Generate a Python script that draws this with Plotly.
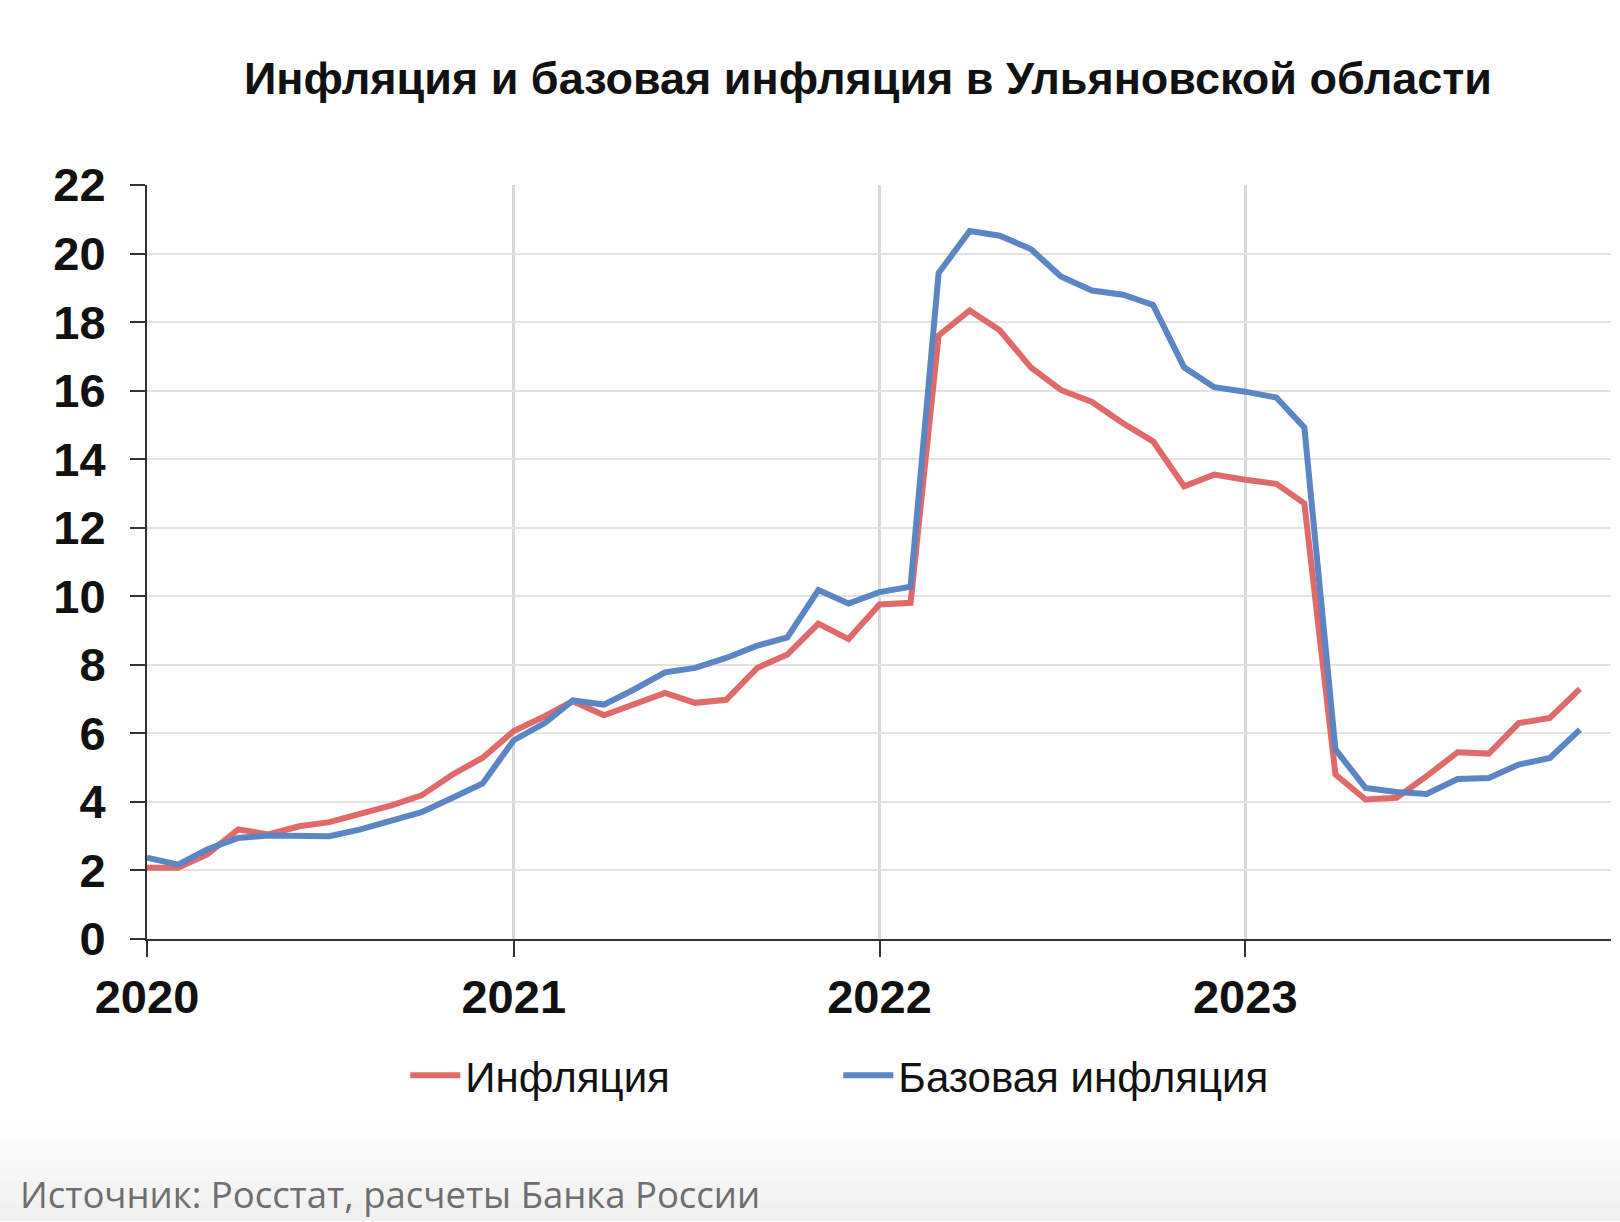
import plotly.graph_objects as go
import pandas as pd

months = pd.date_range("2020-01-01", periods=48, freq="MS").strftime("%Y-%m-%d").tolist()

inflation = [2.08, 2.08, 2.47, 3.20, 3.05, 3.29, 3.41, 3.66, 3.90, 4.19, 4.80, 5.29,
             6.07, 6.50, 6.94, 6.53, 6.83, 7.18, 6.89, 6.98, 7.91, 8.30, 9.20, 8.75,
             9.76, 9.81, 17.61, 18.34, 17.76, 16.68, 16.02, 15.67, 15.05, 14.52, 13.21, 13.55,
             13.40, 13.28, 12.71, 4.80, 4.07, 4.12, 4.75, 5.45, 5.41, 6.30, 6.45, 7.30]

core_inflation = [2.37, 2.17, 2.61, 2.95, 3.02, 3.02, 3.00, 3.20, 3.44, 3.70, 4.12, 4.54,
                  5.80, 6.30, 6.96, 6.84, 7.28, 7.78, 7.91, 8.20, 8.56, 8.80, 10.18, 9.79,
                  10.12, 10.28, 19.43, 20.66, 20.52, 20.13, 19.33, 18.92, 18.80, 18.50, 16.68, 16.10,
                  15.97, 15.80, 14.92, 5.53, 4.41, 4.29, 4.23, 4.67, 4.70, 5.09, 5.28, 6.11]

year_ticks = ["2020-01-01", "2021-01-01", "2022-01-01", "2023-01-01"]
year_labels = ["2020", "2021", "2022", "2023"]
y_ticks = [0, 2, 4, 6, 8, 10, 12, 14, 16, 18, 20, 22]

title_text = "Инфляция и базовая инфляция в Ульяновской области"
source_text = "Источник: Росстат, расчеты Банка России"

RED = "#E06A6A"
BLUE = "#5B85C3"

fig = go.Figure()
fig.add_trace(go.Scatter(x=months, y=inflation, mode="lines", name="Инфляция",
                         line=dict(color=RED, width=6)))
fig.add_trace(go.Scatter(x=months, y=core_inflation, mode="lines", name="Базовая инфляция",
                         line=dict(color=BLUE, width=6)))

W, H = 1620, 1222
L, R, T, B = 146.5, 8.5, 185, 282.5
plot_h = H - T - B

def py(Y):
    return (H - B - Y) / plot_h

# subtle grey gradient at the bottom of the picture
shapes = []
greys = ["#fdfdfd", "#fafafa", "#f7f7f7", "#f4f4f4", "#f1f1f1"]
y0 = 1120
step = (H - y0) / len(greys)
for i, g in enumerate(greys):
    shapes.append(dict(type="rect", xref="paper", yref="paper",
                       x0=-0.2, x1=1.1, y0=py(y0 + (i + 1) * step), y1=py(y0 + i * step),
                       fillcolor=g, line=dict(width=0), layer="below"))

fig.update_layout(
    width=W, height=H,
    margin=dict(l=L, r=R, t=T, b=B),
    paper_bgcolor="white", plot_bgcolor="white",
    shapes=shapes,
    title=dict(text=title_text, x=(245 + 1491) / 2 / W, xanchor="center",
               y=1 - 78 / H, yanchor="middle",
               font=dict(family="Liberation Sans", size=45, color="#111111", weight="bold")),
    showlegend=True,
    legend=dict(orientation="h", x=(405 - L) / (W - L - R), xanchor="left",
                y=py(1076), yanchor="middle",
                font=dict(family="Liberation Sans", size=42, color="#111111"),
                entrywidth=368, entrywidthmode="pixels",
                bgcolor="rgba(0,0,0,0)", itemwidth=50, tracegroupgap=0),
    annotations=[dict(text=source_text, xref="paper", yref="paper",
                      x=-(L - 17) / (W - L - R), xanchor="left", y=py(1195), yanchor="middle",
                      showarrow=False,
                      font=dict(family="Open Sans", size=36.5, color="#6e6e6e"))],
    xaxis=dict(type="date", range=["2020-01-01", "2024-01-01"],
               tickmode="array", tickvals=year_ticks, ticktext=year_labels,
               showgrid=True, gridcolor="#d9d9d9", gridwidth=3,
               showline=True, linecolor="#333333", linewidth=2,
               ticks="outside", ticklen=16, tickwidth=2, tickcolor="#333333",
               ticklabelstandoff=0,
               tickfont=dict(family="Liberation Sans", size=47, color="#111111", weight="bold"),
               zeroline=False, fixedrange=True),
    yaxis=dict(range=[0, 22], tickmode="array", tickvals=y_ticks,
               showgrid=True, gridcolor="#e3e3e3", gridwidth=2,
               showline=True, linecolor="#333333", linewidth=2,
               ticks="outside", ticklen=15, tickwidth=2, tickcolor="#333333",
               ticklabelstandoff=15,
               tickfont=dict(family="Liberation Sans", size=47, color="#111111", weight="bold"),
               zeroline=False, fixedrange=True),
)

fig.write_html("out.html")
